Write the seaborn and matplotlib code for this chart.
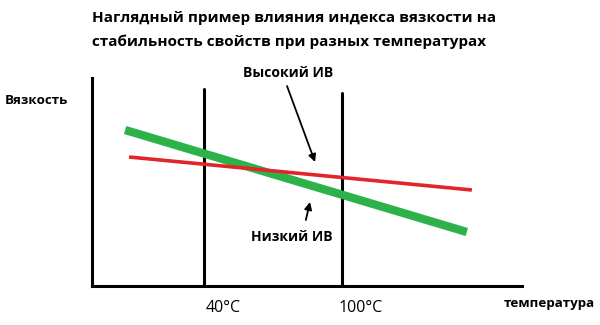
import matplotlib
matplotlib.use("Agg")
import matplotlib.pyplot as plt
import seaborn as sns
import pandas as pd

# Data (arbitrary units)
temp_low = [5.7, 154.3]          # Низкий ИВ line x
visc_low = [156, 54]
temp_high = [7.4, 156.5]         # Высокий ИВ line x
visc_high = [129, 96]
mark_temps = [40, 100]
mark_tops = [197, 193]
mark_labels = ["40°C", "100°C"]

sns.set_theme(style="white")
plt.rcParams['font.family'] = ['Open Sans', 'DejaVu Sans']
plt.rcParams['text.color'] = 'black'

W, H = 600, 325
fig = plt.figure(figsize=(6, 3.25), dpi=100)
ax = fig.add_axes([92 / W, 1 - 286 / H, (522 - 92) / W, (286 - 78) / H])
ax.set_xlim(-8.7, 178.3)
ax.set_ylim(0, 208)

df_low = pd.DataFrame({"t": temp_low, "v": visc_low})
df_high = pd.DataFrame({"t": temp_high, "v": visc_high})
sns.lineplot(data=df_low, x="t", y="v", ax=ax, color="#2db24a", linewidth=6, solid_capstyle="butt")
sns.lineplot(data=df_high, x="t", y="v", ax=ax, color="#e3242b", linewidth=2.6, solid_capstyle="butt")

for t, top in zip(mark_temps, mark_tops):
    ax.plot([t, t], [0, top], color="black", linewidth=2.2, zorder=1)

for s in ["top", "right"]:
    ax.spines[s].set_visible(False)
for s in ["left", "bottom"]:
    ax.spines[s].set_color("black")
    ax.spines[s].set_linewidth(2.2)
ax.set_xticks([])
ax.set_yticks([])
ax.set_xlabel("")
ax.set_ylabel("")

for t, lab in zip(mark_temps, mark_labels):
    ax.text(t + 8.2, -22, lab, ha="center", va="center", fontsize=11.5, fontweight="medium", color="black")

arrow = dict(arrowstyle="-|>", color="black", lw=1.3, shrinkA=0, shrinkB=0, mutation_scale=11)
ax.text(76.5, 213, "Высокий ИВ", ha="center", va="center", fontsize=10, fontweight="bold",
        color="black", clip_on=False)
ax.annotate("", xy=(88.3, 124), xytext=(76.1, 200), arrowprops=arrow, annotation_clip=False)
ax.text(78.3, 49, "Низкий ИВ", ha="center", va="center", fontsize=10, fontweight="bold", color="black")
ax.annotate("", xy=(86.1, 84), xytext=(84.3, 66), arrowprops=arrow)

fig.text(92 / W, 1 - 18 / H, "Наглядный пример влияния индекса вязкости на", ha="left", va="center",
         fontsize=11, fontweight="bold", color="black")
fig.text(92 / W, 1 - 42 / H, "стабильность свойств при разных температурах", ha="left", va="center",
         fontsize=11, fontweight="bold", color="black")
fig.text(5 / W, 1 - 100 / H, "Вязкость", ha="left", va="center", fontsize=9.6, fontweight="bold", color="black")
fig.text(549 / W, 1 - 303 / H, "температура", ha="center", va="center", fontsize=9.6, fontweight="bold",
         color="black")

fig.savefig("out.png", dpi=100, facecolor="white")
